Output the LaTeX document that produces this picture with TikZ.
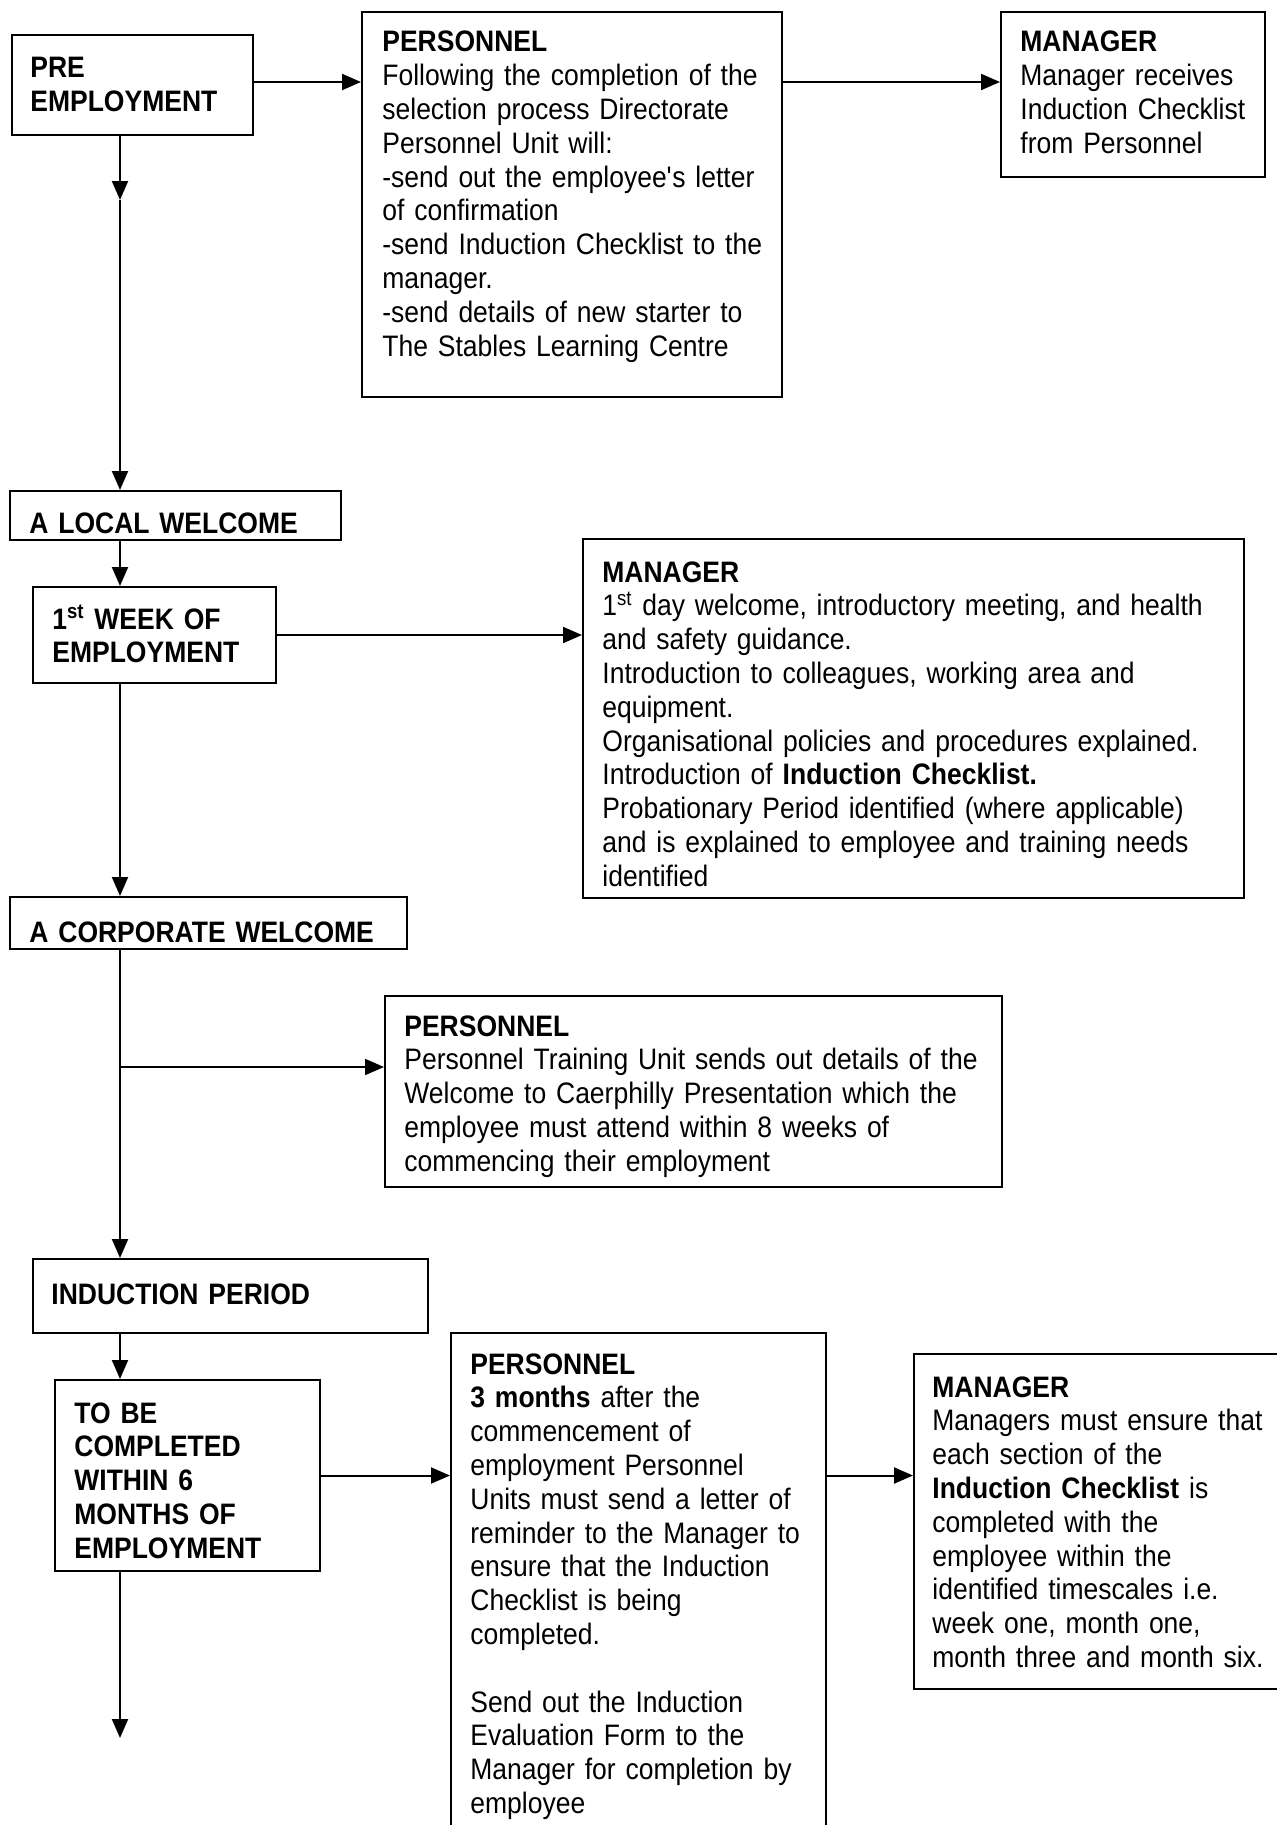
\documentclass[tikz,border=0pt]{standalone}
\usepackage{fontspec}
\setmainfont{Liberation Sans}[FakeStretch=0.895]
\usepackage{tikz}
\usetikzlibrary{arrows.meta,fit,calc}

\tikzset{
  stage/.style={draw, line width=1pt, inner sep=0pt},
  words/.style={anchor=base west, inner sep=0pt, align=left, text width=330pt,
    font=\fontsize{14.8pt}{16.9pt}\selectfont},
  flow/.style={line width=1pt, -{Triangle[length=9.5pt,width=8pt]}},
}

\begin{document}
\begin{tikzpicture}[x=0.5pt,y=-0.5pt]
\useasboundingbox (0,0) rectangle (1277,1825);
\clip (0,0) rectangle (1277,1825);

% boxes
\node[stage, fit={(12,35) (253,135)}] (pre) {};
\node[stage, fit={(362,12) (782,397)}] (pers1) {};
\node[stage, fit={(1001,12) (1265,177)}] (mgr1) {};
\node[stage, fit={(10,491) (341,540)}] (local) {};
\node[stage, fit={(33,587) (276,683)}] (week1) {};
\node[stage, fit={(583,539) (1244,898)}] (mgr2) {};
\node[stage, fit={(10,897) (407,949)}] (corp) {};
\node[stage, fit={(385,996) (1002,1187)}] (pers2) {};
\node[stage, fit={(33,1259) (428,1333)}] (induct) {};
\node[stage, fit={(55,1380) (320,1571)}] (tobe) {};
\node[stage, fit={(451,1333) (826,1850)}] (pers3) {};
\node[stage, fit={(914,1354) (1290,1689)}] (mgr3) {};

% texts
\node[words] (preTxt) at (30,78) {\textbf{PRE}\\\textbf{EMPLOYMENT}};
\node[words] (pers1Txt) at (382,52) {\textbf{PERSONNEL}\\
  Following the completion of the\\
  selection process Directorate\\
  Personnel Unit will:\\
  -send out the employee\textquotesingle s letter\\
  of confirmation\\
  -send Induction Checklist to the\\
  manager.\\
  -send details of new starter to\\
  The Stables Learning Centre};
\node[words] (mgr1Txt) at (1020,52) {\textbf{MANAGER}\\
  Manager receives\\
  Induction Checklist\\
  from Personnel};
\node[words] (localTxt) at (29,533) {\textbf{A LOCAL WELCOME}};
\node[words] (week1Txt) at (52,629) {\textbf{1\textsuperscript{st} WEEK OF}\\\textbf{EMPLOYMENT}};
\node[words] (mgr2Txt) at (602,582) {\textbf{MANAGER}\\
  1\textsuperscript{st} day welcome, introductory meeting, and health\\
  and safety guidance.\\
  Introduction to colleagues, working area and\\
  equipment.\\
  Organisational policies and procedures explained.\\
  Introduction of \textbf{Induction Checklist.}\\
  Probationary Period identified (where applicable)\\
  and is explained to employee and training needs\\
  identified};
\node[words] (corpTxt) at (29,942) {\textbf{A CORPORATE WELCOME}};
\node[words] (pers2Txt) at (404,1036) {\textbf{PERSONNEL}\\
  Personnel Training Unit sends out details of the\\
  Welcome to Caerphilly Presentation which the\\
  employee must attend within 8 weeks of\\
  commencing their employment};
\node[words] (inductTxt) at (51,1304) {\textbf{INDUCTION PERIOD}};
\node[words] (tobeTxt) at (74,1423) {\textbf{TO BE}\\\textbf{COMPLETED}\\\textbf{WITHIN 6}\\
  \textbf{MONTHS OF}\\\textbf{EMPLOYMENT}};
\node[words] (pers3Txt) at (470,1374) {\textbf{PERSONNEL}\\
  \textbf{3 months} after the\\
  commencement of\\
  employment Personnel\\
  Units must send a letter of\\
  reminder to the Manager to\\
  ensure that the Induction\\
  Checklist is being\\
  completed.\\[16.9pt]
  Send out the Induction\\
  Evaluation Form to the\\
  Manager for completion by\\
  employee};
\node[words] (mgr3Txt) at (932,1397) {\textbf{MANAGER}\\
  Managers must ensure that\\
  each section of the\\
  \textbf{Induction Checklist} is\\
  completed with the\\
  employee within the\\
  identified timescales i.e.\\
  week one, month one,\\
  month three and month six.};

% connectors
\coordinate (spine) at (120,0);
\coordinate (row1) at (0,82);
\coordinate (mid1) at (120,200);
\coordinate (split) at (120,1067);
\coordinate (tail) at (120,1738);

\draw[flow] (pre.east |- row1) -- (pers1.west |- row1);
\draw[flow] (pers1.east |- row1) -- (mgr1.west |- row1);
\draw[flow] (pre.south -| spine) -- (mid1);
\draw[flow] (mid1) -- (local.north -| spine);
\draw[flow] (local.south -| spine) -- (week1.north -| spine);
\draw[flow] (week1.east) -- (week1.east -| mgr2.west);
\draw[flow] (week1.south -| spine) -- (corp.north -| spine);
\draw[flow] (corp.south -| spine) -- (induct.north -| spine);
\draw[flow] (split) -- (split -| pers2.west);
\draw[flow] (induct.south -| spine) -- (tobe.north -| spine);
\draw[flow] (tobe.east) -- (tobe.east -| pers3.west);
\draw[flow] (pers3.east |- tobe.east) -- (tobe.east -| mgr3.west);
\draw[flow] (tobe.south -| spine) -- (tail);
\end{tikzpicture}
\end{document}
